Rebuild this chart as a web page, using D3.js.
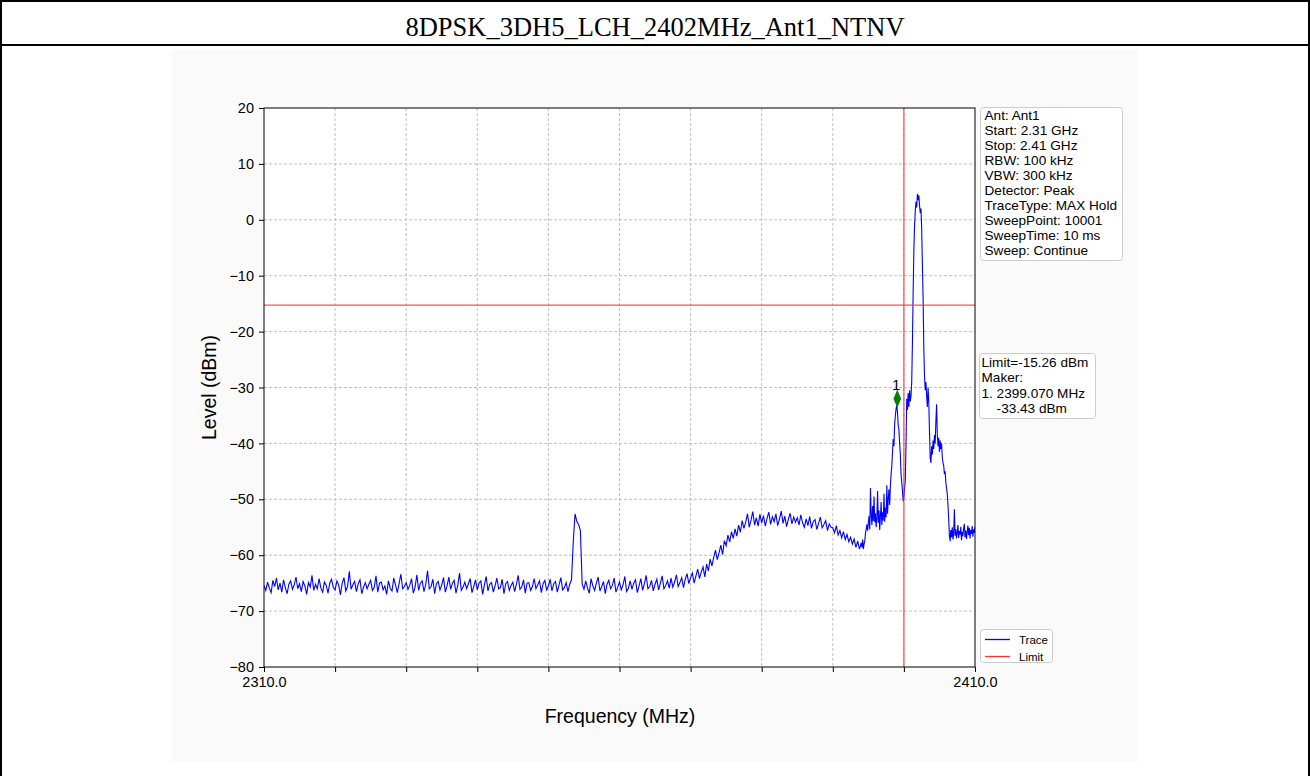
<!DOCTYPE html>
<html>
<head>
<meta charset="utf-8">
<script src="https://cdn.jsdelivr.net/npm/d3@7"></script>
<style>
  html, body { margin: 0; padding: 0; background: #ffffff; }
  svg { display: block; }
  text { font-family: "Liberation Sans", Arial, sans-serif; }
</style>
</head>
<body>
<svg id="chart" width="1310" height="776"></svg>
<script>
// ---------------- DATA ----------------
const chartTitle = "8DPSK_3DH5_LCH_2402MHz_Ant1_NTNV";
const xTickValues = [2310, 2320, 2330, 2340, 2350, 2360, 2370, 2380, 2390, 2400, 2410];
const xTickLabels = ["2310.0", "", "", "", "", "", "", "", "", "", "2410.0"];
const yTickValues = [20, 10, 0, -10, -20, -30, -40, -50, -60, -70, -80];
const limitLevel = -15.26;
const bandEdgeFreq = 2400.0;
const markerFreq = 2399.07;
const markerLevel = -33.43;
const markerPlotLevel = -32.0;
const infoLines = ["Ant: Ant1", "Start: 2.31 GHz", "Stop: 2.41 GHz", "RBW: 100 kHz", "VBW: 300 kHz",
  "Detector: Peak", "TraceType: MAX Hold", "SweepPoint: 10001", "SweepTime: 10 ms", "Sweep: Continue"];
const legendLabels = ["Trace", "Limit"];

// trace, coarse sweep part: 2310.00 MHz .. 2393.75 MHz, 0.25 MHz apart
const coarseStart = 2310.0, coarseStep = 0.25;
const coarseLevels = [
  -65.4,-66.3,-64.8,-65.9,-66.7,-64.5,-65.6,-64.1,-66.2,-65.0,-66.6,-64.4,-65.8,-66.9,-65.2,-64.6,-66.1,-65.3,-63.9,-66.0,
  -65.1,-66.5,-64.7,-65.5,-67.0,-64.9,-65.7,-63.6,-66.3,-65.2,-66.0,-64.2,-65.9,-66.6,-64.8,-65.4,-66.8,-65.0,-64.3,-65.8,
  -66.2,-64.6,-65.3,-67.1,-65.0,-64.0,-66.4,-65.6,-62.9,-66.1,-65.3,-64.7,-66.5,-65.1,-64.4,-66.9,-65.7,-64.9,-66.0,-65.2,
  -64.5,-66.3,-65.8,-63.7,-66.6,-65.0,-64.8,-66.2,-65.5,-67.0,-64.6,-65.9,-66.4,-64.1,-65.3,-66.7,-65.1,-63.4,-66.0,-65.6,
  -64.9,-66.1,-65.4,-64.2,-66.8,-65.7,-63.5,-66.3,-65.0,-64.6,-66.5,-65.2,-62.8,-66.0,-65.6,-64.3,-66.9,-65.1,-64.7,-66.2,
  -65.3,-64.0,-66.6,-65.5,-63.9,-66.1,-65.0,-64.5,-66.8,-65.4,-63.2,-66.3,-65.7,-64.8,-66.0,-65.1,-64.2,-66.7,-65.6,-64.4,
  -66.2,-65.0,-64.6,-67.0,-65.3,-63.8,-66.4,-65.2,-64.9,-66.6,-65.5,-64.1,-66.0,-65.8,-64.3,-66.9,-65.1,-64.7,-66.3,-65.4,
  -64.8,-66.5,-65.2,-63.6,-66.1,-65.7,-64.4,-66.8,-65.0,-64.9,-66.3,-65.6,-64.2,-66.0,-65.3,-64.6,-66.7,-65.1,-64.5,-66.2,
  -65.5,-64.3,-66.4,-65.1,-64.7,-66.6,-65.3,-64.0,-66.2,-65.8,-64.9,-66.5,-65.2,-64.4,-57.5,-52.6,-54.0,-54.5,-55.6,-65.2,
  -66.1,-64.6,-65.9,-66.8,-64.2,-65.5,-66.3,-65.0,-63.9,-66.4,-65.6,-64.7,-66.9,-65.2,-64.5,-66.0,-65.4,-64.1,-66.6,-65.7,
  -64.8,-66.2,-65.3,-63.8,-66.5,-65.9,-64.6,-66.1,-65.0,-64.4,-66.7,-65.5,-64.2,-66.3,-65.1,-63.6,-66.0,-65.6,-64.5,-66.4,
  -65.2,-64.3,-66.2,-65.0,-63.7,-66.0,-65.4,-64.6,-65.9,-64.1,-65.7,-64.8,-63.5,-65.6,-64.9,-64.0,-65.8,-64.3,-63.3,-65.1,
  -64.0,-63.2,-65.0,-63.7,-62.5,-64.2,-63.0,-62.1,-63.9,-61.6,-62.8,-60.7,-61.9,-60.4,-59.1,-60.8,-59.6,-58.2,-59.9,-57.4,
  -58.3,-56.4,-57.6,-55.8,-57.0,-55.3,-56.6,-54.6,-55.9,-53.8,-55.2,-54.1,-52.6,-55.0,-53.7,-52.2,-54.6,-53.3,-54.8,-52.7,
  -54.2,-52.9,-54.8,-53.4,-52.3,-54.5,-53.1,-54.0,-52.6,-54.7,-53.5,-52.1,-54.3,-53.0,-54.9,-53.6,-52.5,-54.4,-53.2,-54.1,
  -53.3,-54.6,-52.8,-54.2,-55.0,-53.5,-54.7,-53.1,-55.2,-54.0,-53.6,-55.4,-54.3,-53.2,-55.1,-54.5,-53.8,-55.6,-54.4,-55.0,
  -55.1,-56.0,-54.7,-56.4,-55.6,-56.9,-55.8,-57.2,-56.3,-57.6,-56.8,-58.0,-57.1,-58.6,-57.5,-58.9
];
// trace, fine sweep part around the carrier: 2394.0 MHz .. 2410.0 MHz, 0.1 MHz apart
const fineStart = 2394.0, fineStep = 0.1;
const fineLevels = [
  -57.8,-58.6,-57.2,-58.9,-58.0,-57.4,-56.1,-55.3,-54.5,-55.6,
  -54.2,-53.0,-55.4,-48.0,-52.8,-54.6,-51.2,-53.9,-49.5,-54.1,
  -52.5,-55.0,-53.3,-48.5,-54.2,-52.0,-55.5,-53.0,-50.5,-54.6,
  -52.3,-53.8,-49.0,-54.0,-51.5,-53.2,-47.5,-52.6,-50.0,-48.2,
  -51.0,-47.5,-45.5,-44.0,-41.5,-39.2,-40.5,-36.5,-35.0,-33.8,
  -33.2,-34.5,-36.8,-37.5,-40.0,-42.0,-45.5,-47.0,-48.5,-50.4,
  -49.5,-48.0,-46.5,-40.0,-32.0,-34.0,-31.0,-33.5,-30.5,-32.5,
  -31.5,-29.0,-22.0,-13.0,-5.5,-1.0,1.5,3.2,2.2,4.6,
  3.5,4.4,2.6,1.2,2.0,-1.5,-8.0,-14.0,-23.0,-28.0,
  -30.5,-29.0,-31.5,-33.5,-30.0,-32.5,-38.0,-42.5,-43.5,-40.5,
  -42.0,-39.5,-41.0,-38.5,-40.0,-36.0,-33.0,-38.5,-40.5,-39.0,
  -41.5,-39.5,-41.0,-40.0,-42.5,-43.5,-44.0,-45.5,-45.0,-47.0,
  -48.0,-49.0,-51.0,-53.5,-56.5,-57.5,-55.5,-56.8,-55.0,-57.2,
  -56.1,-51.8,-56.5,-55.3,-57.0,-56.0,-54.6,-56.9,-55.7,-56.3,
  -54.9,-57.3,-55.8,-56.6,-55.2,-54.4,-56.8,-55.6,-57.1,-55.9,
  -54.7,-56.4,-55.1,-57.0,-55.5,-56.2,-54.8,-56.7,-55.4,-56.0,
  -54.9
];

// ---------------- DRAW ----------------
const svg = d3.select("#chart");
const W = 1310, H = 776;

const trace = coarseLevels.map((v, i) => ({ f: coarseStart + i * coarseStep, v }))
  .concat(fineLevels.map((v, i) => ({ f: fineStart + i * fineStep, v })));

// page frame + title row
svg.append("rect").attr("x", 0).attr("y", 0).attr("width", W).attr("height", H).attr("fill", "#ffffff");
svg.append("rect").attr("x", 172).attr("y", 50).attr("width", 966).attr("height", 712).attr("fill", "#fafafa");
svg.append("rect").attr("x", 1).attr("y", 1).attr("width", W - 2).attr("height", H + 10)
  .attr("fill", "none").attr("stroke", "#000").attr("stroke-width", 2);
svg.append("line").attr("x1", 0).attr("x2", W).attr("y1", 45).attr("y2", 45)
  .attr("stroke", "#000").attr("stroke-width", 2);
svg.append("text").attr("x", W / 2).attr("y", 36).attr("text-anchor", "middle")
  .style("font-family", "'Liberation Serif', 'Times New Roman', serif").style("font-size", "26.5px")
  .text(chartTitle);

const L = 264, R = 975, T = 108, B = 667;
const x = d3.scaleLinear().domain([2310, 2410]).range([L, R]);
const y = d3.scaleLinear().domain([-80, 20]).range([B, T]);

svg.append("rect").attr("x", L).attr("y", T).attr("width", R - L).attr("height", B - T).attr("fill", "#ffffff");

// grid
const grid = svg.append("g");
grid.selectAll("line.gx").data(xTickValues.slice(1, -1)).enter().append("line")
  .attr("x1", d => x(d)).attr("x2", d => x(d)).attr("y1", T).attr("y2", B)
  .attr("stroke", "#b0b0b0").attr("stroke-width", 0.8).attr("stroke-dasharray", "3,2");
grid.selectAll("line.gy").data(yTickValues.slice(1, -1)).enter().append("line")
  .attr("x1", L).attr("x2", R).attr("y1", d => y(d)).attr("y2", d => y(d))
  .attr("stroke", "#b0b0b0").attr("stroke-width", 0.8).attr("stroke-dasharray", "3,2");

// clip
svg.append("clipPath").attr("id", "clip").append("rect")
  .attr("x", L).attr("y", T).attr("width", R - L).attr("height", B - T);

// trace
const line = d3.line().x(d => x(d.f)).y(d => y(d.v));
svg.append("path").datum(trace).attr("clip-path", "url(#clip)")
  .attr("d", line).attr("fill", "none").attr("stroke", "#0000ff").attr("stroke-width", 1.1);

// limit lines
svg.append("line").attr("x1", L).attr("x2", R).attr("y1", y(limitLevel)).attr("y2", y(limitLevel))
  .attr("stroke", "#ff3333").attr("stroke-width", 1.2).attr("opacity", 0.85);
svg.append("line").attr("x1", x(bandEdgeFreq)).attr("x2", x(bandEdgeFreq)).attr("y1", T).attr("y2", B)
  .attr("stroke", "#ff3333").attr("stroke-width", 1.2).attr("opacity", 0.85);

// marker
const mx = x(markerFreq), my = y(markerPlotLevel);
svg.append("path").attr("d", d3.symbol().type(d3.symbolDiamond).size(80)())
  .attr("transform", `translate(${mx},${my}) scale(0.8,1.1)`).attr("fill", "#008000");
svg.append("text").attr("x", mx - 1).attr("y", my - 9).attr("text-anchor", "middle")
  .style("font-size", "15px").attr("fill", "#000").text("1");

// axes
const xAxis = d3.axisBottom(x).tickValues(xTickValues).tickFormat((d, i) => xTickLabels[i])
  .tickSizeInner(5).tickSizeOuter(0).tickPadding(5);
const gx = svg.append("g").attr("transform", `translate(0,${B})`).call(xAxis);
const yAxis = d3.axisLeft(y).tickValues(yTickValues).tickFormat(d => d < 0 ? "\u2212" + Math.abs(d) : d)
  .tickSizeInner(5).tickSizeOuter(0).tickPadding(5);
const gy = svg.append("g").attr("transform", `translate(${L},0)`).call(yAxis);
[gx, gy].forEach(g => {
  g.select(".domain").remove();
  g.selectAll(".tick line").attr("stroke", "#000").attr("stroke-width", 1);
  g.selectAll(".tick text").style("font-family", "'Liberation Sans', Arial, sans-serif")
    .style("font-size", "14.5px").attr("fill", "#000");
});
// frame
svg.append("rect").attr("x", L).attr("y", T).attr("width", R - L).attr("height", B - T)
  .attr("fill", "none").attr("stroke", "#000").attr("stroke-width", 1);

// axis labels
svg.append("text").attr("transform", `translate(216,${(T + B) / 2}) rotate(-90)`).attr("text-anchor", "middle")
  .style("font-size", "19.5px").text("Level (dBm)");
svg.append("text").attr("x", 620).attr("y", 723).attr("text-anchor", "middle")
  .style("font-size", "19.5px").text("Frequency (MHz)");

// info box
svg.append("rect").attr("x", 980.5).attr("y", 107.5).attr("width", 142).attr("height", 153).attr("rx", 3)
  .attr("fill", "#ffffff").attr("stroke", "#cccccc").attr("stroke-width", 1);
svg.append("g").selectAll("text").data(infoLines).enter().append("text")
  .attr("x", 984.5).attr("y", (d, i) => 120 + i * 15).style("font-size", "13.6px").attr("fill", "#000").text(d => d);

// limit/marker box
const limitLines = ["Limit=" + limitLevel.toFixed(2) + " dBm", "Maker:",
  "1. " + markerFreq.toFixed(3) + " MHz", "    " + markerLevel.toFixed(2) + " dBm"];
svg.append("rect").attr("x", 979.5).attr("y", 353.5).attr("width", 116).attr("height", 65).attr("rx", 3)
  .attr("fill", "#ffffff").attr("stroke", "#cccccc").attr("stroke-width", 1);
svg.append("g").selectAll("text").data(limitLines).enter().append("text")
  .attr("x", 981.5).attr("y", (d, i) => 367 + i * 15.3).style("font-size", "13.6px")
  .style("white-space", "pre").attr("xml:space", "preserve").attr("fill", "#000").text(d => d);

// legend
svg.append("rect").attr("x", 980.5).attr("y", 629.5).attr("width", 72).attr("height", 33).attr("rx", 3)
  .attr("fill", "#ffffff").attr("stroke", "#cccccc").attr("stroke-width", 1);
const legendColors = ["#0000ff", "#ff3333"];
legendLabels.forEach((lab, i) => {
  const ly = 639.5 + i * 17;
  svg.append("line").attr("x1", 985).attr("x2", 1010).attr("y1", ly).attr("y2", ly)
    .attr("stroke", legendColors[i]).attr("stroke-width", 1.3);
  svg.append("text").attr("x", 1019).attr("y", ly + 4).style("font-size", "11.5px").attr("fill", "#000").text(lab);
});
</script>
</body>
</html>
